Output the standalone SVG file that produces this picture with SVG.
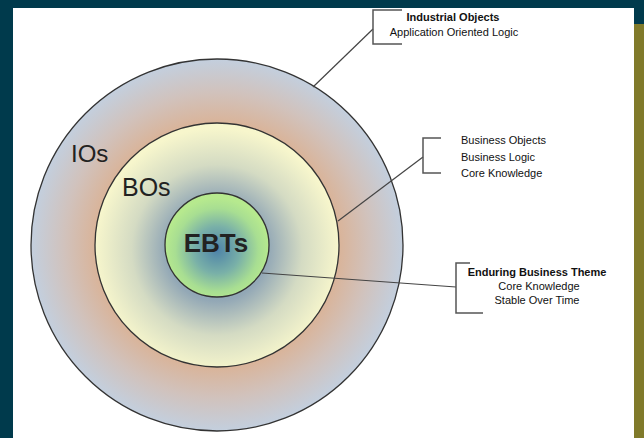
<svg xmlns="http://www.w3.org/2000/svg" width="644" height="438" viewBox="0 0 644 438">
<style>
.ring{stroke:#333;stroke-width:1.3}
.conn{fill:none;stroke:#444;stroke-width:1.2}
.brk{fill:none;stroke:#555;stroke-width:1.5}
.big{font-family:"Liberation Sans",Arial,sans-serif;fill:#222}
.lbl{font-family:"Liberation Sans",Arial,sans-serif;font-size:11px;fill:#111}
.b{font-weight:bold}
</style>
<defs>
<radialGradient id="gOuter" gradientUnits="userSpaceOnUse" cx="217" cy="245" r="186">
<stop offset="0" stop-color="#dab59b"/>
<stop offset="0.66" stop-color="#d9b49a"/>
<stop offset="0.82" stop-color="#d1c2bc"/>
<stop offset="1" stop-color="#c3cfde"/>
</radialGradient>
<radialGradient id="gMid" gradientUnits="userSpaceOnUse" cx="217" cy="250" r="122">
<stop offset="0" stop-color="#7a96aa"/>
<stop offset="0.42" stop-color="#93a8b6"/>
<stop offset="0.7" stop-color="#d4dbc3"/>
<stop offset="1" stop-color="#f7f6cc"/>
</radialGradient>
<radialGradient id="gIn" gradientUnits="userSpaceOnUse" cx="217" cy="250" r="52">
<stop offset="0" stop-color="#4e83a8"/>
<stop offset="0.45" stop-color="#79b0a8"/>
<stop offset="0.8" stop-color="#a8de92"/>
<stop offset="1" stop-color="#b6e98e"/>
</radialGradient>
</defs>
<rect x="0" y="0" width="644" height="438" fill="#003a4c"/>
<rect x="634" y="24" width="10" height="414" fill="#807a2a"/>
<rect x="13" y="8" width="621" height="430" fill="#ffffff"/>

<g id="node-ios">
<circle class="ring" cx="217" cy="245" r="186" fill="url(#gOuter)"/>
<text class="big" x="71" y="162" font-size="24">IOs</text>
</g>
<g id="node-bos">
<circle class="ring" cx="217" cy="245" r="122" fill="url(#gMid)"/>
<text class="big" x="122" y="196" font-size="25">BOs</text>
</g>
<g id="node-ebts">
<circle class="ring" cx="217" cy="245" r="52" fill="url(#gIn)"/>
<text class="big b" x="216" y="252" font-size="26" text-anchor="middle" fill="#151515">EBTs</text>
</g>

<g id="connectors">
<line class="conn" x1="313" y1="87" x2="373" y2="29"/>
<line class="conn" x1="338" y1="221" x2="423" y2="157"/>
<line class="conn" x1="262" y1="273" x2="456" y2="287"/>
<path class="brk" d="M402,10 H373 V44 H402"/>
<path class="brk" d="M441,138 H423 V173 H441"/>
<path class="brk" d="M470,263 H456 V313 H483"/>
</g>

<g id="label-industrial">
<text class="lbl b" x="453" y="21" text-anchor="middle">Industrial Objects</text>
<text class="lbl" x="454" y="36" text-anchor="middle">Application Oriented Logic</text>
</g>
<g id="label-business">
<text class="lbl" x="461" y="144" font-size="11.5">Business Objects</text>
<text class="lbl" x="461" y="160.5" font-size="11.5">Business Logic</text>
<text class="lbl" x="461" y="177" font-size="11.5">Core Knowledge</text>
</g>
<g id="label-enduring">
<text class="lbl b" x="537" y="276" text-anchor="middle">Enduring Business Theme</text>
<text class="lbl" x="539" y="290" text-anchor="middle">Core Knowledge</text>
<text class="lbl" x="537" y="304" text-anchor="middle">Stable Over Time</text>
</g>
</svg>
